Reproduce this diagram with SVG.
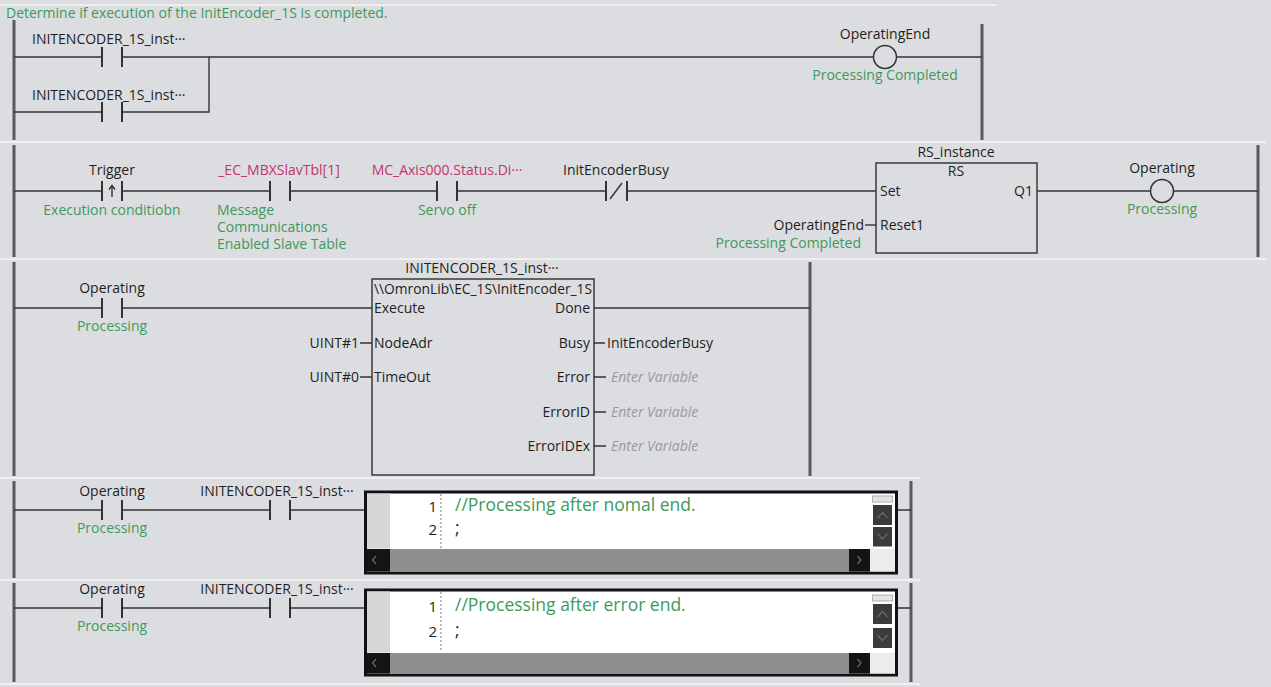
<svg xmlns="http://www.w3.org/2000/svg" width="1271" height="687" viewBox="0 0 1271 687">
<defs>
<style>
.t{font-family:"Open Sans","Noto Sans","Liberation Sans",sans-serif;font-size:14px;fill:#1e1e1e}
.g{fill:#3c9a5a}
.m{fill:#c4336c}
.ev{fill:#9a9a9c;font-style:italic}
.mid{text-anchor:middle}
.end{text-anchor:end}
.w{stroke:#333;stroke-width:1.4;fill:none}
.bar{stroke:#333;stroke-width:2;fill:none}
.rail{stroke:#58595b;stroke-width:3;fill:none}
.sep{stroke:#efeff0;stroke-width:2}
.box{fill:none;stroke:#3a3a3a;stroke-width:1.5}
.coil{fill:none;stroke:#333;stroke-width:1.5}
.code{font-family:"Open Sans","Noto Sans",sans-serif;font-size:17.5px}
.ln{font-family:"Open Sans","Noto Sans",sans-serif;font-size:15px;fill:#1e1e1e;text-anchor:end}
.stframe{fill:#ffffff;stroke:#111;stroke-width:3}
.gutter{fill:#d6d6d8}
.hbar{fill:#8f8f92}
.btn{fill:#141414}
.vbtn{fill:#3b3b3d}
.chev{fill:none;stroke:#6a6a6c;stroke-width:1.2}
.corner{fill:#ececec}
.dash{stroke:#777;stroke-width:1;stroke-dasharray:2 2}
</style>
</defs>

<rect x="0" y="0" width="1271" height="687" fill="#dcdde0"/>

<g id="separators">
<line class="sep" x1="0" y1="5" x2="997" y2="5"/>
<line class="sep" x1="0" y1="142" x2="1266" y2="142"/>
<line class="sep" x1="0" y1="259" x2="1266" y2="259"/>
<line class="sep" x1="0" y1="478" x2="920" y2="478"/>
<line class="sep" x1="0" y1="580" x2="920" y2="580"/>
<line class="sep" x1="0" y1="684" x2="920" y2="684"/>
</g>

<text id="comment" class="t g" x="6" y="18">Determine if execution of the InitEncoder_1S is completed.</text>

<g id="rails">
<line class="rail" x1="14" y1="20" x2="14" y2="140"/>
<line class="rail" x1="982" y1="24" x2="982" y2="140"/>
<line class="rail" x1="14" y1="145" x2="14" y2="257"/>
<line class="rail" x1="1258" y1="145" x2="1258" y2="257"/>
<line class="rail" x1="14" y1="262" x2="14" y2="476"/>
<line class="rail" x1="810" y1="262" x2="810" y2="476"/>
<line class="rail" x1="14" y1="481" x2="14" y2="578"/>
<line class="rail" x1="911" y1="481" x2="911" y2="578"/>
<line class="rail" x1="14" y1="583" x2="14" y2="682"/>
<line class="rail" x1="911" y1="583" x2="911" y2="682"/>
</g>

<g id="connectors">
<!-- rung 1 -->
<path class="w" d="M14 57H102M122 57H873.5M896.5 57H982"/>
<path class="w" d="M14 112H102M122 112H209V57"/>
<!-- rung 2 -->
<path class="w" d="M14 191H102M122 191H270M290 191H437M457 191H606M627 191H876"/>
<path class="w" d="M865 225H876"/>
<path class="w" d="M1037 191H1150.5M1173.5 191H1258"/>
<!-- rung 3 -->
<path class="w" d="M14 308H102M122 308H372"/>
<path class="w" d="M360 343H372M360 377H372"/>
<path class="w" d="M594 308H810"/>
<path class="w" d="M594 343H605M594 377H606M594 412H606M594 446H606"/>
<!-- rung 4 -->
<path class="w" d="M14 510H102M122 510H270M290 510H365M897 510H911"/>
<!-- rung 5 -->
<path class="w" d="M14 608H102M122 608H270M290 608H365M897 608H911"/>
</g>

<!-- Rung 1 -->
<g id="r1_contact_a">
<path class="bar" d="M102 47V67M122 47V67"/>
<text class="t" x="32" y="44">INITENCODER_1S_inst···</text>
</g>
<g id="r1_contact_b">
<path class="bar" d="M102 102V122M122 102V122"/>
<text class="t" x="32" y="100">INITENCODER_1S_inst···</text>
</g>
<g id="r1_coil_OperatingEnd">
<circle class="coil" cx="885" cy="57" r="11.5"/>
<text class="t mid" x="885" y="39">OperatingEnd</text>
<text class="t g mid" x="885" y="80">Processing Completed</text>
</g>

<!-- Rung 2 -->
<g id="r2_trigger">
<path class="bar" d="M102 181V201M122 181V201"/>
<path class="w" d="M112 197V186M109 189.5L112 185.5L115 189.5"/>
<text class="t mid" x="112" y="175">Trigger</text>
<text class="t g mid" x="112" y="215">Execution conditiobn</text>
</g>
<g id="r2_mbx">
<path class="bar" d="M270 181V201M290 181V201"/>
<text class="t m mid" x="279" y="175">_EC_MBXSlavTbl[1]</text>
<text class="t g" x="217" y="215">Message</text>
<text class="t g" x="217" y="232">Communications</text>
<text class="t g" x="217" y="249">Enabled Slave Table</text>
</g>
<g id="r2_axis">
<path class="bar" d="M437 181V201M457 181V201"/>
<text class="t m mid" x="447" y="175">MC_Axis000.Status.Di···</text>
<text class="t g mid" x="447" y="215">Servo off</text>
</g>
<g id="r2_busy_nc">
<path class="bar" d="M606 181V201M627 181V201"/>
<path class="w" d="M610 199L622 183"/>
<text class="t mid" x="616" y="175">InitEncoderBusy</text>
</g>
<g id="r2_rs">
<rect class="box" x="876" y="163" width="161" height="90"/>
<text class="t mid" x="956" y="157">RS_instance</text>
<text class="t mid" x="956" y="176">RS</text>
<text class="t" x="880" y="196">Set</text>
<text class="t end" x="1033" y="196">Q1</text>
<text class="t" x="880" y="230">Reset1</text>
<text class="t end" x="864" y="230">OperatingEnd</text>
<text class="t g end" x="861" y="248">Processing Completed</text>
</g>
<g id="r2_coil_Operating">
<circle class="coil" cx="1162" cy="191" r="11.5"/>
<text class="t mid" x="1162" y="173">Operating</text>
<text class="t g mid" x="1162" y="214">Processing</text>
</g>

<!-- Rung 3 -->
<g id="r3_operating">
<path class="bar" d="M102 298V318M122 298V318"/>
<text class="t mid" x="112" y="293">Operating</text>
<text class="t g mid" x="112" y="331">Processing</text>
</g>
<g id="r3_initencoder">
<rect class="box" x="372" y="279" width="222" height="196"/>
<text class="t mid" x="482" y="273">INITENCODER_1S_inst···</text>
<text class="t" x="374" y="294" textLength="218" lengthAdjust="spacingAndGlyphs">\\OmronLib\EC_1S\InitEncoder_1S</text>
<text class="t" x="374" y="313">Execute</text>
<text class="t" x="374" y="348">NodeAdr</text>
<text class="t" x="374" y="382">TimeOut</text>
<text class="t end" x="590" y="313">Done</text>
<text class="t end" x="590" y="348">Busy</text>
<text class="t end" x="590" y="382">Error</text>
<text class="t end" x="590" y="417">ErrorID</text>
<text class="t end" x="590" y="451">ErrorIDEx</text>
<text class="t end" x="359" y="348">UINT#1</text>
<text class="t end" x="359" y="382">UINT#0</text>
<text class="t" x="607" y="348">InitEncoderBusy</text>
<text class="t ev" x="611" y="382">Enter Variable</text>
<text class="t ev" x="611" y="417">Enter Variable</text>
<text class="t ev" x="611" y="451">Enter Variable</text>
</g>

<!-- Rung 4 -->
<g id="r4_operating">
<path class="bar" d="M102 500V520M122 500V520"/>
<text class="t mid" x="112" y="496">Operating</text>
<text class="t g mid" x="112" y="533">Processing</text>
</g>
<g id="r4_done">
<path class="bar" d="M270 500V520M290 500V520"/>
<text class="t mid" x="277" y="496">INITENCODER_1S_inst···</text>
</g>
<g id="r4_st">
<rect class="stframe" x="365.5" y="492" width="531" height="81"/>
<rect class="gutter" x="367" y="493.5" width="23" height="55"/>
<line class="dash" x1="441" y1="494" x2="441" y2="548"/>
<text class="ln" x="437" y="512">1</text>
<text class="ln" x="437" y="535">2</text>
<text class="code g" x="455" y="511">//Processing after nomal end.</text>
<text class="code" x="455" y="534" fill="#1e1e1e">;</text>
<rect class="btn" x="367" y="549" width="23" height="22.5"/>
<rect class="hbar" x="390" y="549" width="459" height="22.5"/>
<rect class="btn" x="849" y="549" width="21" height="22.5"/>
<rect class="corner" x="870" y="549" width="25" height="22.5"/>
<rect x="872.5" y="496" width="20" height="6" fill="#e4e4e6" stroke="#b0b0b2" stroke-width="1"/>
<rect class="vbtn" x="873" y="505" width="19" height="20"/>
<rect class="vbtn" x="873" y="527" width="19" height="19.5"/>
<path class="chev" d="M877.5 518L882.5 512.5L887.5 518"/>
<path class="chev" d="M877.5 533.5L882.5 539L887.5 533.5"/>
<path class="chev" d="M376 556L372.5 560L376 564"/>
<path class="chev" d="M857.5 556L861 560L857.5 564"/>
</g>

<!-- Rung 5 -->
<g id="r5_operating">
<path class="bar" d="M102 598V618M122 598V618"/>
<text class="t mid" x="112" y="594">Operating</text>
<text class="t g mid" x="112" y="631">Processing</text>
</g>
<g id="r5_done">
<path class="bar" d="M270 598V618M290 598V618"/>
<text class="t mid" x="277" y="594">INITENCODER_1S_inst···</text>
</g>
<g id="r5_st">
<rect class="stframe" x="365.5" y="590" width="531" height="85"/>
<rect class="gutter" x="367" y="591.5" width="23" height="61"/>
<line class="dash" x1="441" y1="592" x2="441" y2="652"/>
<text class="ln" x="437" y="612">1</text>
<text class="ln" x="437" y="637">2</text>
<text class="code g" x="455" y="611">//Processing after error end.</text>
<text class="code" x="455" y="636" fill="#1e1e1e">;</text>
<rect class="btn" x="367" y="653" width="23" height="20.5"/>
<rect class="hbar" x="390" y="653" width="459" height="20.5"/>
<rect class="btn" x="849" y="653" width="21" height="20.5"/>
<rect class="corner" x="870" y="653" width="25" height="20.5"/>
<rect x="872.5" y="595" width="20" height="6" fill="#e4e4e6" stroke="#b0b0b2" stroke-width="1"/>
<rect class="vbtn" x="873" y="604" width="19" height="20"/>
<rect class="vbtn" x="873" y="628" width="19" height="20"/>
<path class="chev" d="M877.5 617L882.5 611.5L887.5 617"/>
<path class="chev" d="M877.5 635L882.5 640.5L887.5 635"/>
<path class="chev" d="M376 659L372.5 663L376 667"/>
<path class="chev" d="M857.5 659L861 663L857.5 667"/>
</g>
</svg>
